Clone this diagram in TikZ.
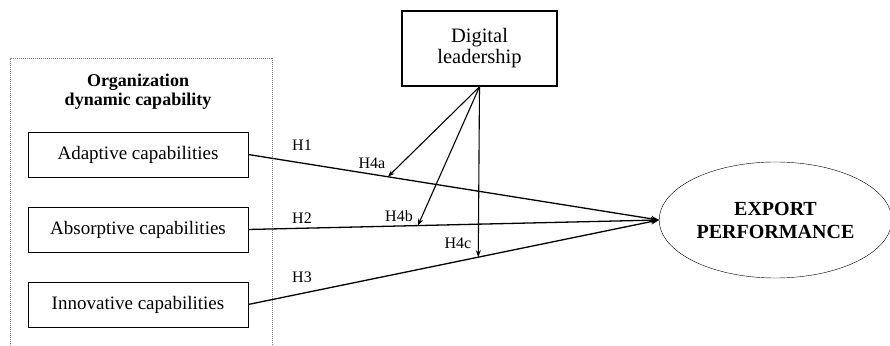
\documentclass[tikz,border=0pt]{standalone}
\usepackage{fontspec}
\setmainfont{Liberation Serif}
\usetikzlibrary{arrows.meta,calc,positioning,shapes.geometric}

\begin{document}
\begin{tikzpicture}[
      x=1pt,y=1pt,
      capbox/.style={rectangle,draw,thin,minimum width=220pt,minimum height=45pt,
        font=\fontsize{19}{22}\selectfont},
      leader/.style={rectangle,draw,line width=1.6pt,minimum width=155pt,minimum height=75pt,
        align=center,font=\fontsize{20.5}{21}\selectfont},
      outcome/.style={ellipse,draw,thin,minimum width=227pt,minimum height=116pt,
        align=center,font=\bfseries\fontsize{20}{23}\selectfont},
      effect/.style={line width=1.3pt},
      moderate/.style={-{Stealth[length=7pt,width=5pt]},line width=1.1pt},
      hyp/.style={font=\fontsize{16}{18}\selectfont}
    ]
      \useasboundingbox (0,0) rectangle (890,345);
      % dotted frame of the dynamic capability group
      \draw[gray,densely dotted,line width=1pt] (10,-5) rectangle (272,286);
      \node[align=center,font=\bfseries\fontsize{18}{19}\selectfont] (odc) at (138,253)
        {Organization\\dynamic capability};
      \node[capbox] (adapt) at (138,190.5) {Adaptive capabilities};
      \node[capbox] (absorb) at (138,115.5) {Absorptive capabilities};
      \node[capbox] (innov) at (138,40.5) {Innovative capabilities};
      \node[leader] (dl) at (479.5,296.5) {Digital\\leadership};
      \node[outcome] (perf) at (775.5,125) {EXPORT\\PERFORMANCE};
      % direct effects
      \draw[effect,-{Stealth[length=8pt,width=6pt]}] (adapt.east) -- (perf.west);
      \draw[effect,-{Stealth[length=8pt,width=6pt]}] (absorb.east) -- (perf.west);
      \draw[effect,-{Stealth[length=8pt,width=6pt]}] (innov.east) -- (perf.west);
      % moderation points on the paths
      \coordinate (ma) at ($(adapt.east)!0.34!(perf.west)$);
      \coordinate (mb) at ($(absorb.east)!0.413!(perf.west)$);
      \coordinate (mc) at ($(innov.east)!0.56!(perf.west)$);
      \draw[moderate] (dl.south) -- (ma);
      \draw[moderate] (dl.south) -- (mb);
      \draw[moderate] (dl.south) -- (mc);
      % hypothesis labels
      \node[hyp] (h1) at (302,200) {H1};
      \node[hyp] (h2) at (302,127) {H2};
      \node[hyp] (h3) at (302,68) {H3};
      \node[hyp] (h4a) at (372,182) {H4a};
      \node[hyp] (h4b) at (399,129) {H4b};
      \node[hyp] (h4c) at (458,102) {H4c};
    \end{tikzpicture}
\end{document}
